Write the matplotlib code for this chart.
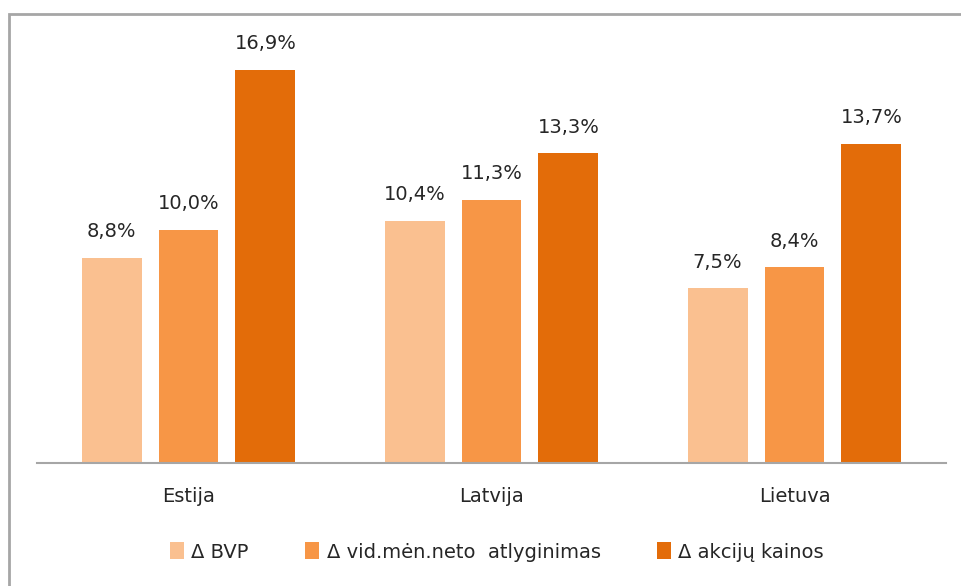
import numpy as np
import matplotlib.pyplot as plt
from matplotlib.patches import Rectangle

categories = ["Estija", "Latvija", "Lietuva"]
series_names = ["Δ BVP", "Δ vid.mėn.neto  atlyginimas", "Δ akcijų kainos"]
bvp = [8.8, 10.4, 7.5]
atlyginimas = [10.0, 11.3, 8.4]
akcijos = [16.9, 13.3, 13.7]
colors = ["#FAC090", "#F79646", "#E36C09"]

fig = plt.figure(figsize=(9.61, 5.86), dpi=100)
ax = fig.add_axes([37 / 961, 1 - 463 / 586, 909 / 961, (463 - 44) / 586])

# outer chart border
fig.patches.append(Rectangle((9 / 961, -0.1), 1.2, 1.1 - 14 / 586,
                             transform=fig.transFigure, fill=False,
                             edgecolor="#A6A6A6", linewidth=2))

x = np.arange(len(categories))
width = 0.198
step = 0.254
for i, (vals, name) in enumerate(zip([bvp, atlyginimas, akcijos], series_names)):
    bars = ax.bar(x + (i - 1) * step, vals, width, color=colors[i], label=name)
    for b, v in zip(bars, vals):
        ax.text(b.get_x() + b.get_width() / 2, v + 0.72, f"{v:.1f}%".replace(".", ","),
                ha="center", va="bottom", fontsize=14, color="#262626")

ax.set_xlim(-0.5, 2.5)
ax.set_ylim(0, 18)
ax.set_yticks([])
for s in ["top", "right", "left"]:
    ax.spines[s].set_visible(False)
ax.spines["bottom"].set_color("#A6A6A6")
ax.spines["bottom"].set_linewidth(1.5)
ax.set_xticks(x)
ax.set_xticklabels(categories, fontsize=14, color="#262626")
ax.tick_params(axis="x", length=0, pad=17)

fig.legend(loc="center", bbox_to_anchor=(497 / 961, 1 - 552 / 586), ncol=3,
           frameon=False, fontsize=14, handlelength=0.7, handleheight=0.95,
           handletextpad=0.4, columnspacing=2.9, labelcolor="#262626")

fig.savefig("out.png", dpi=100)
